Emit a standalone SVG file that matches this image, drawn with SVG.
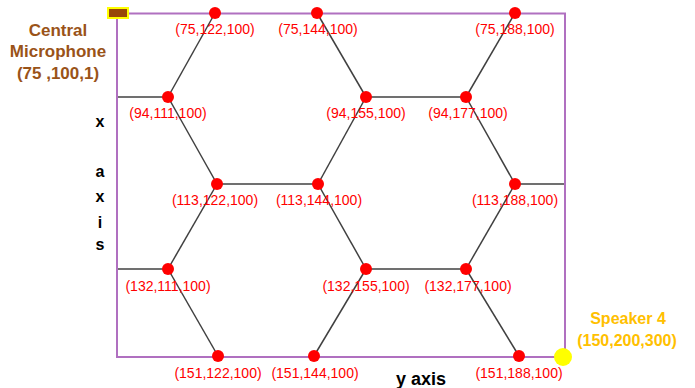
<svg xmlns="http://www.w3.org/2000/svg" width="695" height="388" viewBox="0 0 695 388">
<style>
.lbl{font-family:"Liberation Sans",Arial,sans-serif;font-size:14px;fill:#ff0000;text-anchor:middle}
.ax{font-family:"Liberation Sans",Arial,sans-serif;font-size:16px;font-weight:bold;fill:#000;text-anchor:middle}
.mic{font-family:"Liberation Sans",Arial,sans-serif;font-size:17px;font-weight:bold;fill:#9a5318;text-anchor:middle}
.spk{font-family:"Liberation Sans",Arial,sans-serif;font-size:16px;font-weight:bold;fill:#ffc000;text-anchor:middle}
.edge{stroke:#404040;stroke-width:1.5;fill:none}
.dot{fill:#ff0000}
</style>
<rect width="695" height="388" fill="#fff"/>
<g id="frame"><rect x="117" y="13.5" width="448" height="343.5" fill="none" stroke="#b070c0" stroke-width="2"/></g>
<g id="connectors">
<line class="edge" x1="215" y1="13" x2="168" y2="97"/>
<line class="edge" x1="168" y1="97" x2="217" y2="184"/>
<line class="edge" x1="317" y1="13" x2="366" y2="97"/>
<line class="edge" x1="366" y1="97" x2="318" y2="184"/>
<line class="edge" x1="515" y1="13" x2="466" y2="97"/>
<line class="edge" x1="466" y1="97" x2="515" y2="184"/>
<line class="edge" x1="217" y1="184" x2="168" y2="269"/>
<line class="edge" x1="168" y1="269" x2="218" y2="356"/>
<line class="edge" x1="318" y1="184" x2="366" y2="269"/>
<line class="edge" x1="366" y1="269" x2="314" y2="356"/>
<line class="edge" x1="515" y1="184" x2="466" y2="269"/>
<line class="edge" x1="466" y1="269" x2="519" y2="356"/>
<line class="edge" x1="118" y1="97" x2="168" y2="97"/>
<line class="edge" x1="366" y1="97" x2="466" y2="97"/>
<line class="edge" x1="217" y1="184" x2="318" y2="184"/>
<line class="edge" x1="515" y1="184" x2="564" y2="184"/>
<line class="edge" x1="118" y1="269" x2="168" y2="269"/>
<line class="edge" x1="366" y1="269" x2="466" y2="269"/>
</g>
<g id="n1"><circle class="dot" cx="215" cy="13" r="6"/><text class="lbl" x="215" y="34">(75,122,100)</text></g>
<g id="n2"><circle class="dot" cx="317" cy="13" r="6"/><text class="lbl" x="318" y="34">(75,144,100)</text></g>
<g id="n3"><circle class="dot" cx="515" cy="13" r="6"/><text class="lbl" x="515" y="34">(75,188,100)</text></g>
<g id="n4"><circle class="dot" cx="168" cy="97" r="6"/><text class="lbl" x="168" y="118">(94,111,100)</text></g>
<g id="n5"><circle class="dot" cx="366" cy="97" r="6"/><text class="lbl" x="366" y="118">(94,155,100)</text></g>
<g id="n6"><circle class="dot" cx="466" cy="97" r="6"/><text class="lbl" x="468" y="118">(94,177,100)</text></g>
<g id="n7"><circle class="dot" cx="217" cy="184" r="6"/><text class="lbl" x="215" y="205">(113,122,100)</text></g>
<g id="n8"><circle class="dot" cx="318" cy="184" r="6"/><text class="lbl" x="319" y="205">(113,144,100)</text></g>
<g id="n9"><circle class="dot" cx="515" cy="184" r="6"/><text class="lbl" x="515" y="205">(113,188,100)</text></g>
<g id="n10"><circle class="dot" cx="168" cy="269" r="6"/><text class="lbl" x="168" y="291">(132,111,100)</text></g>
<g id="n11"><circle class="dot" cx="366" cy="269" r="6"/><text class="lbl" x="366" y="291">(132,155,100)</text></g>
<g id="n12"><circle class="dot" cx="466" cy="269" r="6"/><text class="lbl" x="468" y="291">(132,177,100)</text></g>
<g id="n13"><circle class="dot" cx="218" cy="356" r="6"/><text class="lbl" x="218" y="378">(151,122,100)</text></g>
<g id="n14"><circle class="dot" cx="314" cy="356" r="6"/><text class="lbl" x="315" y="378">(151,144,100)</text></g>
<g id="n15"><circle class="dot" cx="519" cy="356" r="6"/><text class="lbl" x="519" y="378">(151,188,100)</text></g>
<g id="microphone">
<rect x="108" y="8" width="20" height="10" fill="#984807" stroke="#ffff00" stroke-width="2"/>
<text class="mic" x="58" y="36">Central</text>
<text class="mic" x="58" y="57">Microphone</text>
<text class="mic" x="58" y="79">(75 ,100,1)</text>
</g>
<g id="speaker">
<circle cx="563" cy="357" r="9" fill="#ffff00"/>
<text class="spk" x="628" y="324">Speaker 4</text>
<text class="spk" x="627" y="346">(150,200,300)</text>
</g>
<g id="axes">
<text class="ax" x="100" y="127">x</text>
<text class="ax" x="100" y="177">a</text>
<text class="ax" x="100" y="202">x</text>
<text class="ax" x="100" y="228">i</text>
<text class="ax" x="100" y="250">s</text>
<text class="ax" x="421" y="385" style="font-size:18px">y axis</text>
</g>
</svg>
